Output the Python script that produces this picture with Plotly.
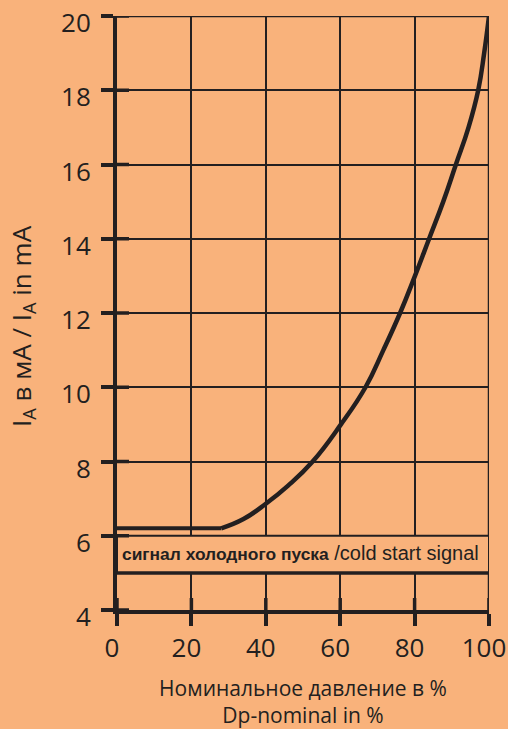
import plotly.graph_objects as go

# data
flat_x = [0, 28]
flat_y = [6.2, 6.2]
curve_x = [28, 34, 40, 46, 52.6, 60.2, 66.8, 71.6, 76.1, 80.1, 83.9, 87.7, 91.1, 94.5, 97.1, 98.7, 100]
curve_y = [6.2, 6.45, 6.86, 7.35, 8.0, 9.0, 10.0, 11.0, 12.0, 13.0, 14.0, 15.0, 16.0, 17.0, 18.0, 19.0, 20.0]
x_ticks = [0, 20, 40, 60, 80, 100]
y_ticks = [4, 6, 8, 10, 12, 14, 16, 18, 20]
box_low, box_high = 5, 6
box_label_ru = "сигнал холодного пуска"
box_label_en = " /cold start signal"
x_title = "Номинальное давление в %<br>Dp-nominal in %"
y_title = "I<sub>A</sub> в мА / I<sub>A</sub> in mA"

BG = "#F9B27B"
INK = "#231F20"
TICKFONT = dict(family="Open Sans", size=26, color=INK)

fig = go.Figure()

# cold start box
fig.add_trace(go.Scatter(
    x=[x_ticks[0], x_ticks[-1], x_ticks[-1], x_ticks[0], x_ticks[0]],
    y=[box_low, box_low, box_high, box_high, box_low],
    fill="toself", fillcolor=BG, mode="lines",
    line=dict(color=INK, width=2), hoverinfo="skip", showlegend=False))
fig.add_trace(go.Scatter(
    x=[x_ticks[0], x_ticks[-1]], y=[box_low, box_low], mode="lines",
    line=dict(color=INK, width=3.5), hoverinfo="skip", showlegend=False))

# curve
fig.add_trace(go.Scatter(x=flat_x, y=flat_y, mode="lines",
                         line=dict(color=INK, width=4), showlegend=False))
fig.add_trace(go.Scatter(x=curve_x, y=curve_y, mode="lines",
                         line=dict(color=INK, width=4.5, shape="spline", smoothing=1.3),
                         showlegend=False))

label = (
    f'<b><span style="font-size:17.4px">{box_label_ru}</span></b>'
    f'<span style="font-size:20px">{box_label_en}</span>'
)
fig.add_annotation(x=x_ticks[0], y=(box_low + box_high) / 2, xref="x", yref="y",
                   text=label, showarrow=False, xanchor="left", xshift=3, yshift=1,
                   font=dict(family="Liberation Sans", size=19, color=INK))

# y-axis title
fig.add_annotation(x=0, y=0.5, xref="paper", yref="paper", text=y_title, textangle=-90,
                   showarrow=False, xanchor="center", yanchor="middle", xshift=-95, yshift=-13,
                   font=dict(family="Open Sans", size=26, color=INK))

shapes = []
# inner halves of cross ticks
for v in y_ticks:
    shapes.append(dict(type="line", xref="x", yref="y", xsizemode="pixel", xanchor=x_ticks[0],
                       x0=0, x1=12, y0=v, y1=v, line=dict(color=INK, width=3.5), layer="above"))
for v in x_ticks:
    shapes.append(dict(type="line", xref="x", yref="y", ysizemode="pixel", yanchor=y_ticks[0],
                       y0=0, y1=12, x0=v, x1=v, line=dict(color=INK, width=3.5), layer="above"))
# edge grid lines (top and right)
shapes.append(dict(type="line", xref="x", yref="y", x0=x_ticks[0], x1=x_ticks[-1],
                   y0=y_ticks[-1], y1=y_ticks[-1], line=dict(color=INK, width=2.5), layer="below"))
shapes.append(dict(type="line", xref="x", yref="y", x0=x_ticks[-1], x1=x_ticks[-1],
                   y0=y_ticks[0], y1=y_ticks[-1], line=dict(color=INK, width=2.5), layer="below"))
fig.update_layout(shapes=shapes)

fig.update_xaxes(range=[0, 100], tickvals=x_ticks, showgrid=True, gridcolor=INK, gridwidth=2,
                 showline=True, linecolor=INK, linewidth=3.5,
                 ticks="outside", ticklen=12, tickwidth=3.5, tickcolor=INK,
                 tickfont=TICKFONT, zeroline=False, ticklabeloverflow="allow",
                 ticklabelshift=-5,
                 title=dict(text=x_title, font=dict(family="Open Sans", size=21, color=INK), standoff=21))
fig.update_yaxes(range=[4, 20], tickvals=y_ticks, showgrid=True, gridcolor=INK, gridwidth=2,
                 showline=True, linecolor=INK, linewidth=4,
                 ticks="outside", ticklen=12, tickwidth=3.5, tickcolor=INK,
                 tickfont=TICKFONT, zeroline=False, ticklabeloverflow="allow",
                 ticklabelshift=7, ticklabelstandoff=5)

fig.update_layout(width=508, height=729, paper_bgcolor=BG, plot_bgcolor=BG,
                  margin=dict(l=117, r=19, t=16, b=119, autoexpand=False), showlegend=False)

fig.write_html("out.html", config={"displayModeBar": False},
               post_script="document.body.style.margin='0';document.body.style.background='" + BG + "';")
